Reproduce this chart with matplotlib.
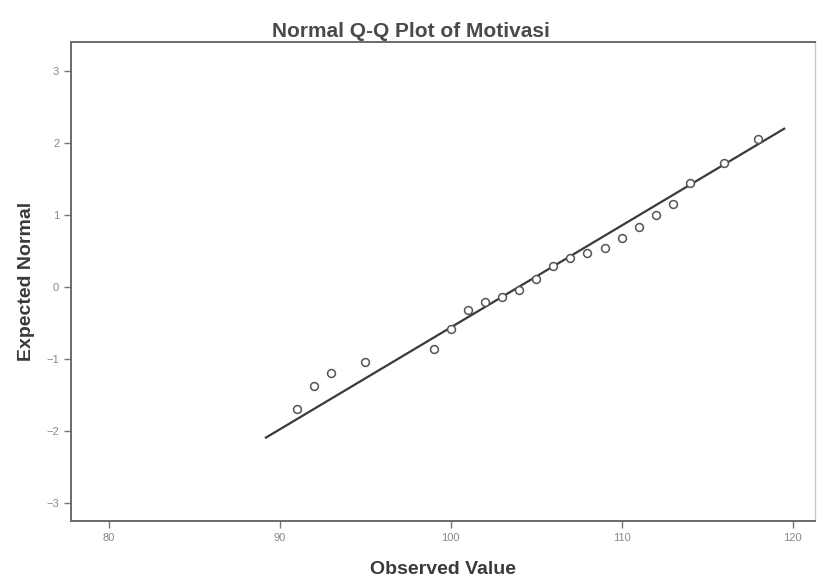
import matplotlib
matplotlib.use("Agg")
import matplotlib.pyplot as plt

plt.rcParams['font.family'] = ['Liberation Sans', 'DejaVu Sans']

## Data
observed = [91, 92, 93, 95, 99, 100, 101, 102, 103, 104, 105,
            106, 107, 108, 109, 110, 111, 112, 113, 114, 116, 118]
expected = [-1.70, -1.37, -1.19, -1.04, -0.86, -0.58, -0.32, -0.21, -0.14, -0.04, 0.11,
            0.30, 0.40, 0.47, 0.55, 0.68, 0.83, 1.00, 1.16, 1.44, 1.73, 2.06]

# reference line: mean / sd of the sample, drawn over this x range
line_mean = 103.96
line_sd = 7.06
line_x = [89.2, 119.5]
line_y = [(x - line_mean) / line_sd for x in line_x]

x_ticks = [80, 90, 100, 110, 120]
y_ticks = [-3, -2, -1, 0, 1, 2, 3]

fig = plt.figure(figsize=(8.22, 5.78), dpi=100)
ax = fig.add_axes([0.0864, 0.0986, 0.905, 0.828])

ax.plot(line_x, line_y, color='#3a3a3a', lw=1.6, zorder=2)
ax.scatter(observed, expected, s=32, facecolors='white', edgecolors='#555555',
           linewidths=1.1, zorder=3)

ax.set_xlim(77.8, 121.3)
ax.set_ylim(-3.25, 3.4)
ax.set_xticks(x_ticks)
ax.set_yticks(y_ticks)
ax.tick_params(direction='out', length=5, width=1.0, color='#777777',
               labelsize=8, labelcolor='#888888')

for side in ['left', 'bottom', 'top', 'right']:
    ax.spines[side].set_color('#6a6a6a')
    ax.spines[side].set_linewidth(1.4)
ax.spines['right'].set_color('#c8c8c8')
ax.spines['right'].set_linewidth(1.0)

fig.text(0.5, 0.946, 'Normal Q-Q Plot of Motivasi', ha='center', va='center',
         fontsize=15, fontweight='bold', color='#4a4a4a')
ax.set_xlabel('Observed Value', fontsize=14, fontweight='bold', color='#3a3a3a',
              labelpad=13)
ax.set_ylabel('Expected Normal', fontsize=14, fontweight='bold', color='#3a3a3a',
              labelpad=8)

fig.savefig('out.png', dpi=100)
